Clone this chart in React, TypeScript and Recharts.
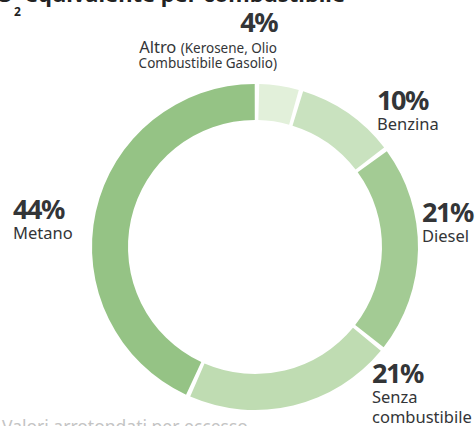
import React from "react";
import { PieChart, Pie, Cell } from "recharts";

const categories = ["Altro", "Benzina", "Diesel", "Senza combustibile", "Metano"];
const values = [4, 10, 21, 21, 44];
const labelsPct = ["4%", "10%", "21%", "21%", "44%"];
const labelLines: string[][] = [
  ["Altro", "Combustibile Gasolio)"],
  ["Benzina"],
  ["Diesel"],
  ["Senza", "combustibile"],
  ["Metano"],
];
const colors = ["#e2f0da", "#c9e2bf", "#a3cb94", "#bfdcb2", "#95c385"];

const data = categories.map((name, i) => ({ name, value: values[i] }));

// label layout (style only)
const layout = [
  { x: 277, y: 32, anchor: "end" },
  { x: 377, y: 110, anchor: "start" },
  { x: 422, y: 222, anchor: "start" },
  { x: 372, y: 383, anchor: "start" },
  { x: 13, y: 219, anchor: "start" },
];

const FONT = "'Noto Sans', sans-serif";
const DARK = "#333537";

const renderLabel = (props: any) => {
  const i = props.index;
  const l = layout[i];
  const lines = labelLines[i];
  return (
    <g key={"lbl" + i}>
      <text
        x={l.x}
        y={l.y}
        textAnchor={l.anchor as any}
        fontFamily={FONT}
        fontWeight={700}
        fontSize={27}
        letterSpacing={-1.5}
        fill={DARK}
      >
        {labelsPct[i]}
      </text>
      {i === 0 ? (
        <>
          <text x={l.x} y={l.y + 21} textAnchor="end" fontFamily={FONT} fill={DARK}>
            <tspan fontSize={16.5}>{lines[0]} </tspan>
            <tspan fontSize={13.5}>(Kerosene, Olio</tspan>
          </text>
          <text x={l.x} y={l.y + 36} textAnchor="end" fontFamily={FONT} fontSize={13.5} fill={DARK}>
            {lines[1]}
          </text>
        </>
      ) : (
        lines.map((t, k) => (
          <text
            key={k}
            x={l.x}
            y={l.y + 20 + k * 19.5}
            textAnchor={l.anchor as any}
            fontFamily={FONT}
            fontSize={16.5}
            fill={DARK}
          >
            {t}
          </text>
        ))
      )}
    </g>
  );
};

export default function App() {
  return (
    <div style={{ position: "fixed", left: 0, top: 0, width: 475, height: 426, background: "#fff", overflow: "hidden" }}>
      <PieChart width={475} height={426}>
        <Pie
          data={data}
          dataKey="value"
          nameKey="name"
          cx={250}
          cy={242}
          innerRadius={127}
          outerRadius={163}
          startAngle={88.5}
          endAngle={-271.5}
          paddingAngle={1.6}
          stroke="none"
          label={renderLabel}
          labelLine={false}
          isAnimationActive={false}
        >
          {data.map((d, i) => (
            <Cell key={d.name} fill={colors[i]} />
          ))}
        </Pie>
      </PieChart>
      <svg width={475} height={426} style={{ position: "absolute", left: 0, top: 0, pointerEvents: "none" }}>
        <text x={-18} y={2} fontFamily={FONT} fontWeight={700} fontSize={22} fill="#222">
          CO
        </text>
        <text x={14} y={16} fontFamily={FONT} fontWeight={700} fontSize={12} fill="#222">
          2
        </text>
        <text x={25} y={2} fontFamily={FONT} fontWeight={700} fontSize={22} fill="#222" textLength={320} lengthAdjust="spacingAndGlyphs">
          equivalente per combustibile
        </text>
        <text x={2} y={433} fontFamily={FONT} fontSize={17.5} fill="#c4c4c4">
          Valori arrotondati per eccesso
        </text>
      </svg>
    </div>
  );
}
